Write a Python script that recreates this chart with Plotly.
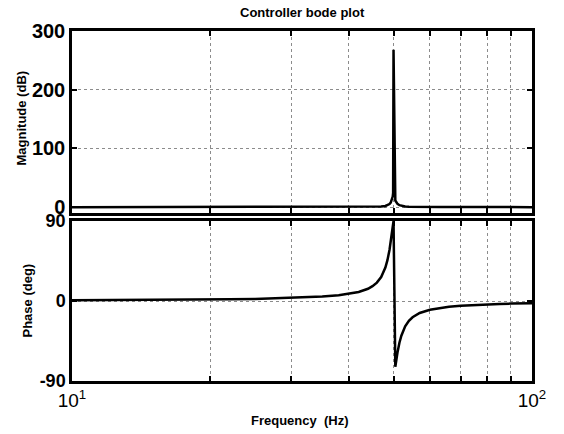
import plotly.graph_objects as go

# Frequency samples (Hz)
freq = [10, 12, 14, 16, 18, 20, 22, 25, 28, 30, 32, 35, 38, 40, 42, 44, 45, 46, 47, 48,
        48.5, 49, 49.3, 49.6, 49.8, 49.9, 50, 50.45, 50.7, 51, 51.5, 52, 53, 54, 55, 57,
        60, 63, 66, 70, 75, 80, 85, 90, 95, 100]

# Magnitude (dB)
mag_db = [0, 0, 0, 0, 0, 0, 0, 0, 0, 0, 0, 0,
          0.05, 0.1, 0.15, 0.3, 0.4, 0.6, 1.0, 2.0, 3.2, 5.3, 7.8, 12.2, 18.0, 24.1, 268,
          11.2, 7.8, 5.5, 3.3, 2.2, 1.1, 0.7, 0.5, 0.25, 0.13, 0.1, 0.05,
          0, 0, 0, 0, 0, 0, 0]

# Phase (deg)
phase_deg = [0.8, 0.9, 1.1, 1.3, 1.5, 1.7, 2.0, 2.4, 3.0, 3.4, 3.9, 5.0, 6.5, 8.0, 10.2,
             13.8, 16.7, 20.7, 27.0, 37.7, 46.0, 57.4, 65.9, 75.8, 82.8, 86.4, 90,
             -74, -66, -58, -47, -39, -28.5, -22.3, -18.3, -13.5, -9.8, -7.7, -6.4, -5.3,
             -4.3, -3.7, -3.3, -2.9, -2.6, -2.4]

x_grid = [10, 20, 30, 40, 50, 60, 70, 80, 90, 100]
x_text = ["10<sup>1</sup>", "", "", "", "", "", "", "", "", "10<sup>2</sup>"]
mag_ticks = [0, 100, 200, 300]
mag_text = ["0", "100", "200", "300"]
phase_ticks = [-90, 0, 90]
phase_text = ["-90", "0", "90"]

FONT = "Liberation Sans, Arial, sans-serif"

fig = go.Figure()
fig.add_trace(go.Scatter(x=freq, y=mag_db, mode="lines",
                         line=dict(color="black", width=2.5),
                         xaxis="x", yaxis="y", showlegend=False))
fig.add_trace(go.Scatter(x=freq, y=phase_deg, mode="lines",
                         line=dict(color="black", width=2.5),
                         xaxis="x2", yaxis="y2", showlegend=False))

common_axis = dict(showline=True, linewidth=2.5, linecolor="black", mirror="ticks",
                   ticks="inside", ticklen=5, tickwidth=1.5, tickcolor="black",
                   showgrid=True, gridcolor="#8c8c8c", gridwidth=1, griddash="dot",
                   zeroline=False)

fig.update_layout(
    width=564, height=434,
    margin=dict(l=72, r=32, t=31, b=53),
    paper_bgcolor="white", plot_bgcolor="white",
    font=dict(family=FONT, color="black"),
    xaxis=dict(type="log", range=[1, 2], domain=[0, 1], anchor="y",
               tickvals=x_grid, ticktext=x_text, showticklabels=False,
               matches="x2", **common_axis),
    yaxis=dict(domain=[0.48, 1], range=[-10, 300], tickvals=mag_ticks, ticktext=mag_text,
               tickfont=dict(size=20, family=FONT, weight="bold"), anchor="x",
               **common_axis),
    xaxis2=dict(type="log", range=[1, 2], domain=[0, 1], anchor="y2",
                tickvals=x_grid, ticktext=x_text,
                tickfont=dict(size=19, family=FONT), **common_axis),
    yaxis2=dict(domain=[0, 0.457], range=[-90, 90], tickvals=phase_ticks,
                ticktext=phase_text,
                tickfont=dict(size=18, family=FONT, weight="bold"), anchor="x2",
                **common_axis),
    annotations=[
        dict(text="<b>Controller bode plot</b>", x=0.5, y=(381 - 12) / 350,
             xref="paper", yref="paper", showarrow=False,
             font=dict(size=13, family=FONT), xanchor="center", yanchor="middle"),
        dict(text="<b>Magnitude (dB)</b>", x=(21 - 72) / 460, y=0.75,
             xref="paper", yref="paper", showarrow=False, textangle=-90,
             font=dict(size=13, family=FONT), xanchor="center", yanchor="middle"),
        dict(text="<b>Phase (deg)</b>", x=(27 - 72) / 460, y=0.23,
             xref="paper", yref="paper", showarrow=False, textangle=-90,
             font=dict(size=13, family=FONT), xanchor="center", yanchor="middle"),
        dict(text="<b>Frequency  (Hz)</b>", x=0.496, y=(381 - 420) / 350,
             xref="paper", yref="paper", showarrow=False,
             font=dict(size=13, family=FONT), xanchor="center", yanchor="middle"),
    ],
)

fig.write_html("out.html")
